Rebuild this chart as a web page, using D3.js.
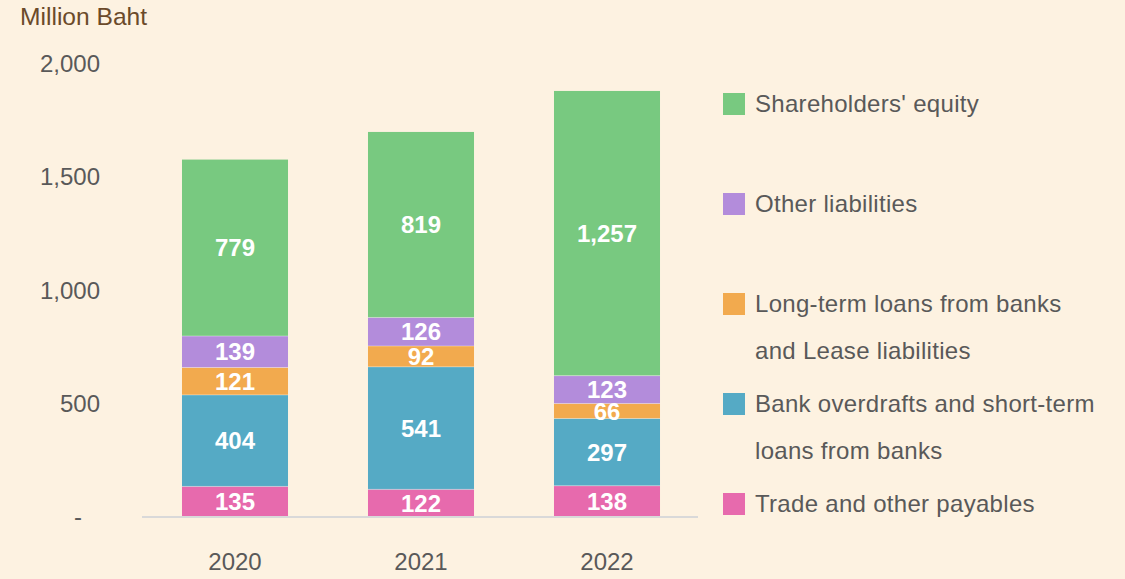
<!DOCTYPE html>
<html><head><meta charset="utf-8">
<script src="https://cdn.jsdelivr.net/npm/d3@7"></script>
<style>
html,body{margin:0;padding:0;background:#FDF2E1;}
svg{display:block;font-family:"Liberation Sans",Arial,sans-serif;}
</style></head>
<body>
<svg id="chart" width="1125" height="579"></svg>
<script>
const years = ["2020", "2021", "2022"];
const seriesNames = ["Trade and other payables", "Bank overdrafts and short-term loans from banks", "Long-term loans from banks and Lease liabilities", "Other liabilities", "Shareholders' equity"];
const tradePayables = [135, 122, 138];
const bankOverdrafts = [404, 541, 297];
const longTermLoans = [121, 92, 66];
const otherLiabilities = [139, 126, 123];
const equity = [779, 819, 1257];
const seriesColors = ["#E76AAD", "#55AAC5", "#F2AA4E", "#B38CDB", "#78C980"];
const yTicks = [0, 500, 1000, 1500, 2000];
const legendLines = [
  ["Shareholders' equity"],
  ["Other liabilities"],
  ["Long-term loans from banks", "and Lease liabilities"],
  ["Bank overdrafts and short-term", "loans from banks"],
  ["Trade and other payables"]
];
const legendColors = ["#78C980", "#B38CDB", "#F2AA4E", "#55AAC5", "#E76AAD"];

const seriesValues = [tradePayables, bankOverdrafts, longTermLoans, otherLiabilities, equity];
const rows = years.map((y, i) => {
  const r = {year: y};
  seriesNames.forEach((s, k) => r[s] = seriesValues[k][i]);
  return r;
});
const stacked = d3.stack().keys(seriesNames)(rows);

const svg = d3.select("#chart");
const x = d3.scaleBand().domain(years).range([142, 700]).paddingInner(0.43).paddingOuter(0.215);
const y = d3.scaleLinear().domain([0, 2000]).range([517, 64]);

// y axis labels
const yAxis = d3.axisLeft(y).tickValues(yTicks).tickSize(0).tickPadding(0)
  .tickFormat(d => d === 0 ? "-" : d3.format(",")(d));
const gy = svg.append("g").attr("transform", "translate(100,0)").call(yAxis);
gy.select(".domain").remove();
gy.selectAll("text").attr("fill", "#595959").attr("font-size", 24)
  .attr("font-family", "Liberation Sans, Arial, sans-serif")
  .attr("dx", d => d === 0 ? -18 : 0);

// bars
const g = svg.append("g");
stacked.forEach((layer, k) => {
  g.selectAll(null).data(layer).enter().append("rect")
    .attr("x", d => x(d.data.year))
    .attr("width", x.bandwidth())
    .attr("y", d => y(d[1]))
    .attr("height", d => y(d[0]) - y(d[1]))
    .attr("fill", seriesColors[k]);
});
// separators
stacked.slice(0, -1).forEach(layer => {
  g.selectAll(null).data(layer).enter().append("line")
    .attr("x1", d => x(d.data.year)).attr("x2", d => x(d.data.year) + x.bandwidth())
    .attr("y1", d => y(d[1])).attr("y2", d => y(d[1]))
    .attr("stroke", "rgba(255,255,255,0.35)").attr("stroke-width", 1);
});
// labels
stacked.forEach((layer, k) => {
  g.selectAll(null).data(layer).enter().append("text")
    .attr("x", d => x(d.data.year) + x.bandwidth() / 2)
    .attr("y", d => (y(d[0]) + y(d[1])) / 2)
    .attr("dy", "0.36em")
    .attr("text-anchor", "middle")
    .attr("fill", "#fff").attr("font-weight", "bold").attr("font-size", 24)
    .text(d => d3.format(",")(d[1] - d[0]));
});

// x axis
const xAxis = d3.axisBottom(x).tickSize(0).tickPadding(36);
const gx = svg.append("g").attr("transform", "translate(0,517)").call(xAxis);
gx.select(".domain").attr("stroke", "#D9D9D9").attr("stroke-width", 2).attr("d", "M142,0H698");
gx.selectAll("text").attr("fill", "#595959").attr("font-size", 24)
  .attr("font-family", "Liberation Sans, Arial, sans-serif");

// y title
svg.append("text").attr("x", 20).attr("y", 25).attr("fill", "#6B4A2A")
  .attr("font-size", 24.6).text("Million Baht");

// legend
const lg = svg.append("g");
legendLines.forEach((lines, i) => {
  const top = 93 + i * 100;
  lg.append("rect").attr("x", 723).attr("y", top).attr("width", 22).attr("height", 22).attr("fill", legendColors[i]);
  lines.forEach((t, j) => {
    lg.append("text").attr("x", 755).attr("y", top + 19 + j * 47)
      .attr("fill", "#595959").attr("font-size", 24).attr("letter-spacing", "0.3px").text(t);
  });
});
</script>
</body></html>
